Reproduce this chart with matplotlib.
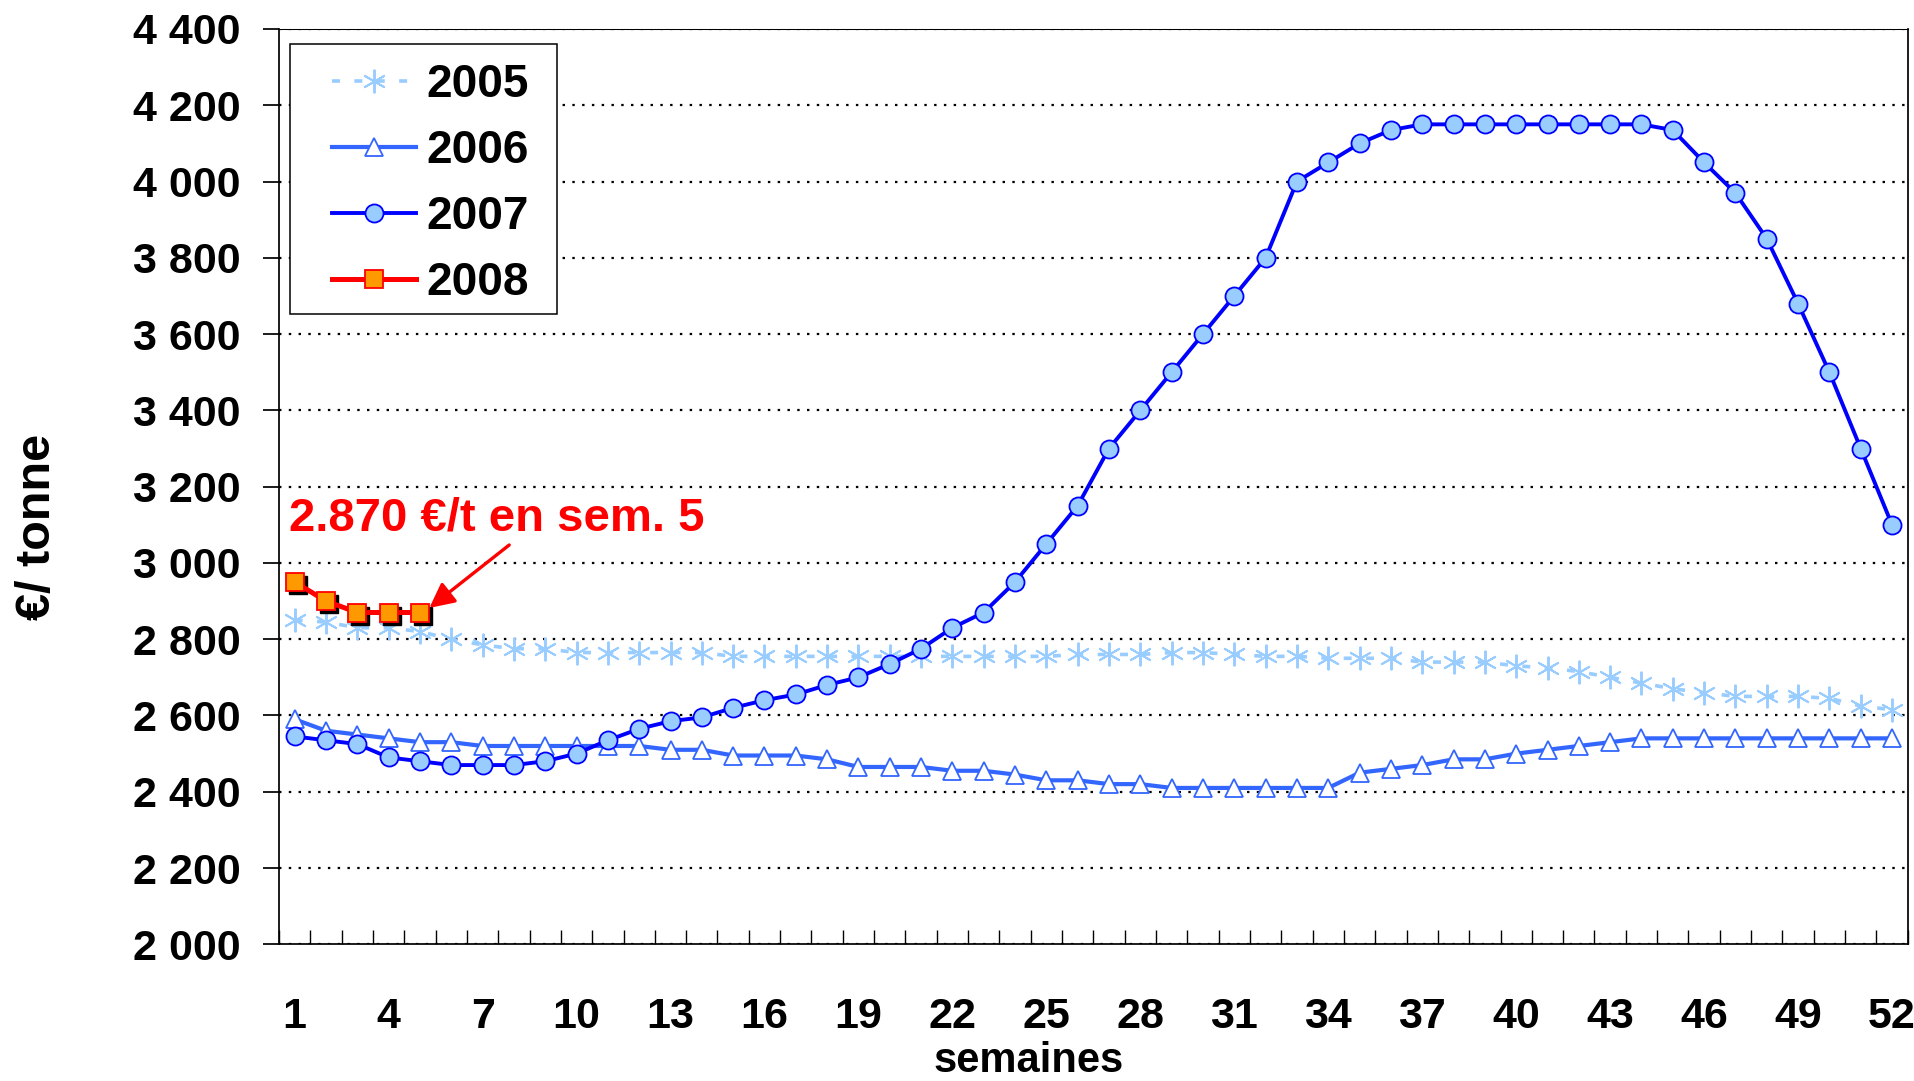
import numpy as np
import matplotlib
matplotlib.use("Agg")
import matplotlib.pyplot as plt
import matplotlib.transforms as mtransforms
from matplotlib.patches import Rectangle

plt.rcParams["font.family"] = ["Liberation Sans", "DejaVu Sans"]
plt.rcParams["font.weight"] = "bold"

# données (prix en €/tonne par semaine)
semaines = np.arange(1, 53)
prix_2005 = [2850, 2845, 2830, 2830, 2820, 2800, 2785, 2775, 2775, 2765,
             2765, 2765, 2765, 2765, 2755, 2755, 2755, 2755, 2755, 2755,
             2755, 2755, 2755, 2755, 2755, 2760, 2760, 2760, 2765, 2765,
             2760, 2755, 2755, 2750, 2750, 2750, 2740, 2740, 2740, 2730,
             2725, 2715, 2700, 2685, 2670, 2660, 2650, 2650, 2650, 2645,
             2625, 2615]
prix_2006 = [2590, 2560, 2550, 2540, 2530, 2530, 2520, 2520, 2520, 2520,
             2520, 2520, 2510, 2510, 2495, 2495, 2495, 2485, 2465, 2465,
             2465, 2455, 2455, 2445, 2430, 2430, 2420, 2420, 2410, 2410,
             2410, 2410, 2410, 2410, 2450, 2460, 2470, 2485, 2485, 2500,
             2510, 2520, 2530, 2540, 2540, 2540, 2540, 2540, 2540, 2540,
             2540, 2540]
prix_2007 = [2545, 2535, 2525, 2490, 2480, 2470, 2470, 2470, 2480, 2500,
             2535, 2565, 2585, 2595, 2620, 2640, 2655, 2680, 2700, 2735,
             2775, 2830, 2870, 2950, 3050, 3150, 3300, 3400, 3500, 3600,
             3700, 3800, 4000, 4050, 4100, 4135, 4150, 4150, 4150, 4150,
             4150, 4150, 4150, 4150, 4135, 4050, 3970, 3850, 3680, 3500,
             3300, 3100]
semaines_2008 = [1, 2, 3, 4, 5]
prix_2008 = [2950, 2900, 2870, 2870, 2870]

annees = ["2005", "2006", "2007", "2008"]
graduations_y = list(range(2000, 4401, 200))
etiquettes_y = [f"{v:,}".replace(",", " ") for v in graduations_y]
semaines_affichees = list(range(1, 53, 3))

W, H = 1915, 1081
fig = plt.figure(figsize=(W / 100, H / 100), dpi=100)
ax = fig.add_axes([279 / W, 1 - 944.3 / H, (1907.7 - 279) / W, (944.3 - 29) / H])

l05, = ax.plot(semaines, prix_2005, color="#99CCFF", lw=2.6, dashes=(2.2, 4.0),
               marker=(6, 2, 0), markersize=17, markeredgewidth=1.4,
               markeredgecolor="#99CCFF", zorder=2)
l06, = ax.plot(semaines, prix_2006, color="#3366FF", lw=3.0,
               marker="^", markersize=13.5, markerfacecolor="white",
               markeredgecolor="#3366FF", markeredgewidth=1.3, zorder=3)
l07, = ax.plot(semaines, prix_2007, color="#0000FF", lw=2.8,
               marker="o", markersize=13, markerfacecolor="#99CCFF",
               markeredgecolor="#0000FF", markeredgewidth=1.3, zorder=4)
# ombre des carrés 2008
ombre = mtransforms.offset_copy(ax.transData, fig=fig, x=3, y=-3, units="dots")
ax.plot(semaines_2008, prix_2008, ls="none", marker="s", markersize=12.5,
        color="black", transform=ombre, zorder=4.5)
l08, = ax.plot(semaines_2008, prix_2008, color="#FF0000", lw=3.6,
               marker="s", markersize=12.5, markerfacecolor="#FF9900",
               markeredgecolor="#FF0000", markeredgewidth=1.3, zorder=5)

ax.set_xlim(0.5, 52.5)
ax.set_ylim(2000, 4400)
ax.set_yticks(graduations_y)
ax.set_yticklabels(etiquettes_y)
ax.set_xticks(semaines_affichees)
ax.set_xticklabels([str(s) for s in semaines_affichees])
ax.set_xticks(np.arange(0.5, 53, 1), minor=True)
ax.tick_params(axis="x", which="major", length=0, pad=38, labelsize=31)
ax.tick_params(axis="x", which="minor", direction="in", length=10, width=1)
ax.tick_params(axis="y", which="major", direction="out", length=11.5, width=1.25,
               pad=16, labelsize=31)

ax.yaxis.grid(True, color="black", linestyle=(0, (1.1, 3.3)), linewidth=1.6)
ax.set_axisbelow(True)
for s in ["left", "right", "bottom"]:
    ax.spines[s].set_linewidth(1.25)
ax.spines["top"].set_linewidth(0.75)

fig.text(38 / W, 1 - 526.5 / H, "€/ tonne", rotation=90, ha="center",
         va="center", fontsize=35, fontweight="bold")
fig.text(1029 / W, 0.5 / H, "semaines", ha="center", va="bottom",
         fontsize=30, fontweight="bold")

ax.text(0.82, 3084, "2.870 €/t en sem. 5", color="#FF0000", fontsize=34,
        fontweight="bold", va="baseline", ha="left", zorder=6)
ax.annotate("", xy=(5.30, 2882), xytext=(7.85, 3047),
            arrowprops=dict(arrowstyle="-|>,head_length=0.6,head_width=0.3",
                            color="#FF0000", lw=2.4, mutation_scale=25,
                            shrinkA=0, shrinkB=0), zorder=6)

# cadre de la légende
ax.add_patch(Rectangle((290 / W, 1 - 314 / H), (556.7 - 290) / W, (314 - 44) / H,
                       transform=fig.transFigure, facecolor="white",
                       edgecolor="black", lw=1.1, clip_on=False, zorder=6))
leg = ax.legend([l05, l06, l07, l08], annees, loc="upper left",
                bbox_to_anchor=(332 / W, 1 - 63.4 / H), bbox_transform=fig.transFigure,
                frameon=False, borderpad=0, borderaxespad=0, handlelength=1.83,
                handletextpad=0.23, labelspacing=0.475,
                prop={"size": 33, "weight": "bold"})
leg.set_zorder(7)

fig.savefig("out.png", dpi=100)
